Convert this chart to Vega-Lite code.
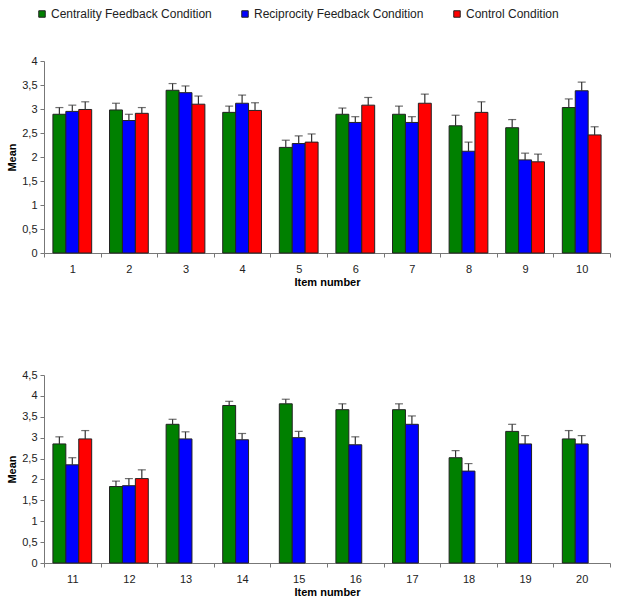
{
  "$schema": "https://vega.github.io/schema/vega-lite/v6.json",
  "padding": {"left": 6, "top": 8, "right": 0, "bottom": 0},
  "background": "white",
  "datasets": {
    "top": [
      {"item": 1, "condition": "Centrality Feedback Condition", "mean": 2.89, "upper": 3.03},
      {"item": 1, "condition": "Reciprocity Feedback Condition", "mean": 2.95, "upper": 3.08},
      {"item": 1, "condition": "Control Condition", "mean": 2.99, "upper": 3.15},
      {"item": 2, "condition": "Centrality Feedback Condition", "mean": 2.98, "upper": 3.12},
      {"item": 2, "condition": "Reciprocity Feedback Condition", "mean": 2.76, "upper": 2.89},
      {"item": 2, "condition": "Control Condition", "mean": 2.91, "upper": 3.03},
      {"item": 3, "condition": "Centrality Feedback Condition", "mean": 3.39, "upper": 3.53},
      {"item": 3, "condition": "Reciprocity Feedback Condition", "mean": 3.34, "upper": 3.48},
      {"item": 3, "condition": "Control Condition", "mean": 3.10, "upper": 3.27},
      {"item": 4, "condition": "Centrality Feedback Condition", "mean": 2.93, "upper": 3.06},
      {"item": 4, "condition": "Reciprocity Feedback Condition", "mean": 3.12, "upper": 3.29},
      {"item": 4, "condition": "Control Condition", "mean": 2.97, "upper": 3.13},
      {"item": 5, "condition": "Centrality Feedback Condition", "mean": 2.20, "upper": 2.35},
      {"item": 5, "condition": "Reciprocity Feedback Condition", "mean": 2.28, "upper": 2.44},
      {"item": 5, "condition": "Control Condition", "mean": 2.31, "upper": 2.48},
      {"item": 6, "condition": "Centrality Feedback Condition", "mean": 2.89, "upper": 3.02},
      {"item": 6, "condition": "Reciprocity Feedback Condition", "mean": 2.72, "upper": 2.84},
      {"item": 6, "condition": "Control Condition", "mean": 3.08, "upper": 3.24},
      {"item": 7, "condition": "Centrality Feedback Condition", "mean": 2.89, "upper": 3.06},
      {"item": 7, "condition": "Reciprocity Feedback Condition", "mean": 2.72, "upper": 2.84},
      {"item": 7, "condition": "Control Condition", "mean": 3.12, "upper": 3.31},
      {"item": 8, "condition": "Centrality Feedback Condition", "mean": 2.65, "upper": 2.87},
      {"item": 8, "condition": "Reciprocity Feedback Condition", "mean": 2.12, "upper": 2.31},
      {"item": 8, "condition": "Control Condition", "mean": 2.93, "upper": 3.15},
      {"item": 9, "condition": "Centrality Feedback Condition", "mean": 2.61, "upper": 2.78},
      {"item": 9, "condition": "Reciprocity Feedback Condition", "mean": 1.94, "upper": 2.08},
      {"item": 9, "condition": "Control Condition", "mean": 1.90, "upper": 2.06},
      {"item": 10, "condition": "Centrality Feedback Condition", "mean": 3.03, "upper": 3.21},
      {"item": 10, "condition": "Reciprocity Feedback Condition", "mean": 3.38, "upper": 3.56},
      {"item": 10, "condition": "Control Condition", "mean": 2.46, "upper": 2.63}
    ],
    "bottom": [
      {"item": 11, "condition": "Centrality Feedback Condition", "mean": 2.85, "upper": 3.02},
      {"item": 11, "condition": "Reciprocity Feedback Condition", "mean": 2.35, "upper": 2.52},
      {"item": 11, "condition": "Control Condition", "mean": 2.97, "upper": 3.17},
      {"item": 12, "condition": "Centrality Feedback Condition", "mean": 1.83, "upper": 1.96},
      {"item": 12, "condition": "Reciprocity Feedback Condition", "mean": 1.85, "upper": 2.02},
      {"item": 12, "condition": "Control Condition", "mean": 2.02, "upper": 2.23},
      {"item": 13, "condition": "Centrality Feedback Condition", "mean": 3.32, "upper": 3.44},
      {"item": 13, "condition": "Reciprocity Feedback Condition", "mean": 2.97, "upper": 3.14},
      {"item": 14, "condition": "Centrality Feedback Condition", "mean": 3.77, "upper": 3.87},
      {"item": 14, "condition": "Reciprocity Feedback Condition", "mean": 2.95, "upper": 3.10},
      {"item": 15, "condition": "Centrality Feedback Condition", "mean": 3.81, "upper": 3.92},
      {"item": 15, "condition": "Reciprocity Feedback Condition", "mean": 3.00, "upper": 3.15},
      {"item": 16, "condition": "Centrality Feedback Condition", "mean": 3.67, "upper": 3.81},
      {"item": 16, "condition": "Reciprocity Feedback Condition", "mean": 2.83, "upper": 3.02},
      {"item": 17, "condition": "Centrality Feedback Condition", "mean": 3.67, "upper": 3.81},
      {"item": 17, "condition": "Reciprocity Feedback Condition", "mean": 3.32, "upper": 3.52},
      {"item": 18, "condition": "Centrality Feedback Condition", "mean": 2.52, "upper": 2.69},
      {"item": 18, "condition": "Reciprocity Feedback Condition", "mean": 2.20, "upper": 2.38},
      {"item": 19, "condition": "Centrality Feedback Condition", "mean": 3.15, "upper": 3.32},
      {"item": 19, "condition": "Reciprocity Feedback Condition", "mean": 2.85, "upper": 3.05},
      {"item": 20, "condition": "Centrality Feedback Condition", "mean": 2.97, "upper": 3.17},
      {"item": 20, "condition": "Reciprocity Feedback Condition", "mean": 2.85, "upper": 3.05}
    ]
  },
  "config": {
    "font": "Liberation Sans",
    "view": {"stroke": null},
    "axis": {
      "labelFont": "Liberation Sans",
      "labelFontSize": 11,
      "labelColor": "#222",
      "titleFont": "Liberation Sans",
      "titleFontSize": 11,
      "titleFontWeight": "bold",
      "titleColor": "#000",
      "domainColor": "#777",
      "tickColor": "#777",
      "tickSize": 4,
      "grid": false,
      "labelOverlap": false
    },
    "legend": {
      "orient": "none",
      "legendX": -8,
      "legendY": -53,
      "direction": "horizontal",
      "labelFont": "Liberation Sans",
      "labelFontSize": 12,
      "labelColor": "#222",
      "labelLimit": 400,
      "symbolType": "square",
      "symbolSize": 42,
      "symbolStrokeColor": "#222",
      "symbolStrokeWidth": 1,
      "columnPadding": 27,
      "labelOffset": 3
    }
  },
  "spacing": 82,
  "vconcat": [
    {
      "width": 566,
      "height": 192,
      "data": {"name": "top"},
      "encoding": {
        "x": {"field": "item", "type": "ordinal", "scale": {"paddingInner": 0, "paddingOuter": 0},
              "axis": {"title": "Item number", "labelAngle": 0, "tickBand": "extent", "labelPadding": 6, "titlePadding": 2}},
        "xOffset": {"field": "condition", "type": "nominal",
                    "sort": ["Centrality Feedback Condition", "Reciprocity Feedback Condition", "Control Condition"],
                    "scale": {"paddingInner": 0, "paddingOuter": 0.69}}
      },
      "layer": [
        {
          "mark": {"type": "bar", "stroke": "#222", "strokeWidth": 1},
          "encoding": {
            "y": {"field": "mean", "type": "quantitative", "scale": {"domain": [0, 4]},
                  "axis": {"title": "Mean", "values": [0, 0.5, 1, 1.5, 2, 2.5, 3, 3.5, 4], "tickCount": 12,
                           "labelExpr": "replace(format(datum.value, '~g'), '.', ',')", "titlePadding": 4, "labelPadding": 3}},
            "color": {"field": "condition", "type": "nominal", "title": null,
                      "scale": {"domain": ["Centrality Feedback Condition", "Reciprocity Feedback Condition", "Control Condition"],
                                "range": ["#008000", "#0000ff", "#ff0000"]}}
          }
        },
        {
          "mark": {"type": "rule", "color": "#333", "strokeWidth": 1.2},
          "encoding": {"y": {"field": "mean", "type": "quantitative"}, "y2": {"field": "upper"}}
        },
        {
          "mark": {"type": "tick", "color": "#333", "size": 8, "thickness": 1.2},
          "encoding": {"y": {"field": "upper", "type": "quantitative"}}
        }
      ]
    },
    {
      "width": 566,
      "height": 188,
      "data": {"name": "bottom"},
      "encoding": {
        "x": {"field": "item", "type": "ordinal", "scale": {"paddingInner": 0, "paddingOuter": 0},
              "axis": {"title": "Item number", "labelAngle": 0, "tickBand": "extent", "labelPadding": 6, "titlePadding": 2}},
        "xOffset": {"field": "condition", "type": "nominal",
                    "sort": ["Centrality Feedback Condition", "Reciprocity Feedback Condition", "Control Condition"],
                    "scale": {"domain": ["Centrality Feedback Condition", "Reciprocity Feedback Condition", "Control Condition"], "paddingInner": 0, "paddingOuter": 0.69}}
      },
      "layer": [
        {
          "mark": {"type": "bar", "stroke": "#222", "strokeWidth": 1},
          "encoding": {
            "y": {"field": "mean", "type": "quantitative", "scale": {"domain": [0, 4.5]},
                  "axis": {"title": "Mean", "values": [0, 0.5, 1, 1.5, 2, 2.5, 3, 3.5, 4, 4.5], "tickCount": 12,
                           "labelExpr": "replace(format(datum.value, '~g'), '.', ',')", "titlePadding": 4, "labelPadding": 3}},
            "color": {"field": "condition", "type": "nominal", "title": null,
                      "scale": {"domain": ["Centrality Feedback Condition", "Reciprocity Feedback Condition", "Control Condition"],
                                "range": ["#008000", "#0000ff", "#ff0000"]}}
          }
        },
        {
          "mark": {"type": "rule", "color": "#333", "strokeWidth": 1.2},
          "encoding": {"y": {"field": "mean", "type": "quantitative"}, "y2": {"field": "upper"}}
        },
        {
          "mark": {"type": "tick", "color": "#333", "size": 8, "thickness": 1.2},
          "encoding": {"y": {"field": "upper", "type": "quantitative"}}
        }
      ]
    }
  ]
}
